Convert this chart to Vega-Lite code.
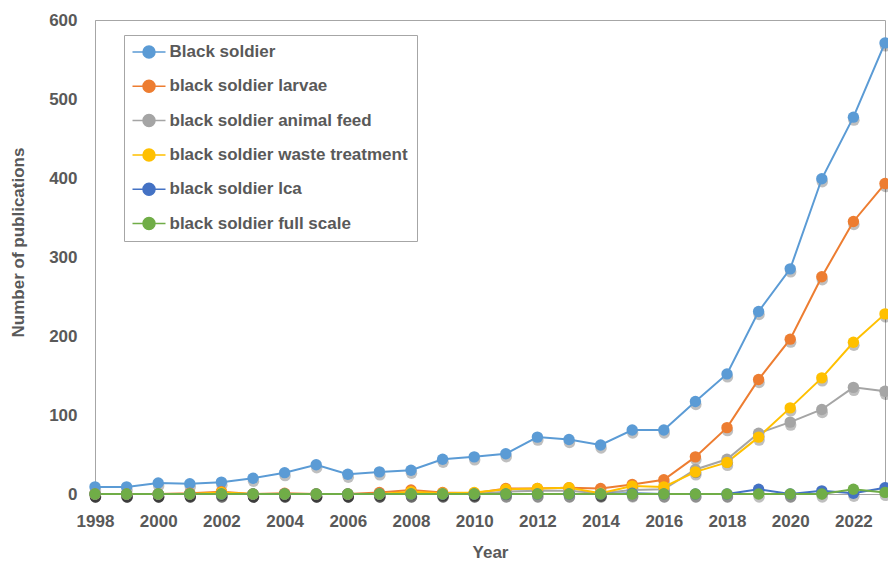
{
  "$schema": "https://vega.github.io/schema/vega-lite/v6.json",
  "width": 790,
  "height": 474,
  "autosize": {"type": "none"},
  "padding": {"left": 95, "top": 20, "right": 3, "bottom": 69},
  "background": "white",
  "config": {
    "font": "Liberation Sans",
    "view": {"stroke": "#A6A6A6", "strokeWidth": 1},
    "axis": {
      "grid": false, "ticks": false, "tickSize": 0,
      "labelFont": "Liberation Sans", "labelFontSize": 17, "labelFontWeight": "bold", "labelColor": "#595959",
      "titleFont": "Liberation Sans", "titleFontSize": 17, "titleFontWeight": "bold", "titleColor": "#595959",
      "domainColor": "#A6A6A6"
    }
  },
  "data": {"values": [
    {"year": 1998, "Black soldier": 9, "black soldier larvae": 0, "black soldier animal feed": 0, "black soldier waste treatment": 0, "black soldier lca": 0, "black soldier full scale": 0},
    {"year": 1999, "Black soldier": 9, "black soldier larvae": 0, "black soldier animal feed": 0, "black soldier waste treatment": 0, "black soldier lca": 0, "black soldier full scale": 0},
    {"year": 2000, "Black soldier": 14, "black soldier larvae": 0, "black soldier animal feed": 0, "black soldier waste treatment": 0, "black soldier lca": 0, "black soldier full scale": 0},
    {"year": 2001, "Black soldier": 13, "black soldier larvae": 1, "black soldier animal feed": 0, "black soldier waste treatment": 0, "black soldier lca": 0, "black soldier full scale": 0},
    {"year": 2002, "Black soldier": 15, "black soldier larvae": 3, "black soldier animal feed": 0, "black soldier waste treatment": 2, "black soldier lca": 0, "black soldier full scale": 0},
    {"year": 2003, "Black soldier": 20, "black soldier larvae": 0, "black soldier animal feed": 0, "black soldier waste treatment": 0, "black soldier lca": 0, "black soldier full scale": 0},
    {"year": 2004, "Black soldier": 27, "black soldier larvae": 1, "black soldier animal feed": 0, "black soldier waste treatment": 0, "black soldier lca": 0, "black soldier full scale": 0},
    {"year": 2005, "Black soldier": 37, "black soldier larvae": 0, "black soldier animal feed": 0, "black soldier waste treatment": 0, "black soldier lca": 0, "black soldier full scale": 0},
    {"year": 2006, "Black soldier": 25, "black soldier larvae": 0, "black soldier animal feed": 0, "black soldier waste treatment": 0, "black soldier lca": 0, "black soldier full scale": 0},
    {"year": 2007, "Black soldier": 28, "black soldier larvae": 2, "black soldier animal feed": 0, "black soldier waste treatment": 0, "black soldier lca": 0, "black soldier full scale": 0},
    {"year": 2008, "Black soldier": 30, "black soldier larvae": 5, "black soldier animal feed": 0, "black soldier waste treatment": 3, "black soldier lca": 0, "black soldier full scale": 0},
    {"year": 2009, "Black soldier": 44, "black soldier larvae": 2, "black soldier animal feed": 0, "black soldier waste treatment": 1, "black soldier lca": 0, "black soldier full scale": 0},
    {"year": 2010, "Black soldier": 47, "black soldier larvae": 1, "black soldier animal feed": 0, "black soldier waste treatment": 2, "black soldier lca": 0, "black soldier full scale": 0},
    {"year": 2011, "Black soldier": 51, "black soldier larvae": 7, "black soldier animal feed": 3, "black soldier waste treatment": 6, "black soldier lca": 0, "black soldier full scale": 0},
    {"year": 2012, "Black soldier": 72, "black soldier larvae": 7, "black soldier animal feed": 4, "black soldier waste treatment": 7, "black soldier lca": 0, "black soldier full scale": 0},
    {"year": 2013, "Black soldier": 69, "black soldier larvae": 8, "black soldier animal feed": 4, "black soldier waste treatment": 8, "black soldier lca": 0, "black soldier full scale": 0},
    {"year": 2014, "Black soldier": 62, "black soldier larvae": 7, "black soldier animal feed": 1, "black soldier waste treatment": 1, "black soldier lca": 0, "black soldier full scale": 0},
    {"year": 2015, "Black soldier": 81, "black soldier larvae": 12, "black soldier animal feed": 5, "black soldier waste treatment": 10, "black soldier lca": 1, "black soldier full scale": 0},
    {"year": 2016, "Black soldier": 81, "black soldier larvae": 18, "black soldier animal feed": 6, "black soldier waste treatment": 9, "black soldier lca": 0, "black soldier full scale": 0},
    {"year": 2017, "Black soldier": 117, "black soldier larvae": 47, "black soldier animal feed": 31, "black soldier waste treatment": 28, "black soldier lca": 0, "black soldier full scale": 0},
    {"year": 2018, "Black soldier": 152, "black soldier larvae": 84, "black soldier animal feed": 44, "black soldier waste treatment": 40, "black soldier lca": 0, "black soldier full scale": 0},
    {"year": 2019, "Black soldier": 231, "black soldier larvae": 145, "black soldier animal feed": 77, "black soldier waste treatment": 72, "black soldier lca": 6, "black soldier full scale": 0},
    {"year": 2020, "Black soldier": 285, "black soldier larvae": 196, "black soldier animal feed": 91, "black soldier waste treatment": 109, "black soldier lca": 0, "black soldier full scale": 0},
    {"year": 2021, "Black soldier": 399, "black soldier larvae": 275, "black soldier animal feed": 107, "black soldier waste treatment": 147, "black soldier lca": 4, "black soldier full scale": 0},
    {"year": 2022, "Black soldier": 477, "black soldier larvae": 345, "black soldier animal feed": 135, "black soldier waste treatment": 192, "black soldier lca": 1, "black soldier full scale": 6},
    {"year": 2023, "Black soldier": 571, "black soldier larvae": 393, "black soldier animal feed": 130, "black soldier waste treatment": 228, "black soldier lca": 8, "black soldier full scale": 2}
  ]},
  "transform": [
    {"fold": ["Black soldier", "black soldier larvae", "black soldier animal feed", "black soldier waste treatment", "black soldier lca", "black soldier full scale"], "as": ["series", "count"]}
  ],
  "encoding": {
    "x": {
      "field": "year", "type": "quantitative",
      "scale": {"domain": [1998, 2023], "nice": false, "zero": false},
      "axis": {"values": [1998, 2000, 2002, 2004, 2006, 2008, 2010, 2012, 2014, 2016, 2018, 2020, 2022], "format": "d", "labelPadding": 19, "title": "Year", "titlePadding": 15, "labelFlush": false, "labelOverlap": false}
    },
    "y": {
      "field": "count", "type": "quantitative",
      "scale": {"domain": [0, 600], "nice": false},
      "axis": {"values": [0, 100, 200, 300, 400, 500, 600], "labelPadding": 18, "title": "Number of publications", "titleX": -77, "titleY": 222, "titleBaseline": "middle", "titleAngle": -90}
    }
  },
  "layer": [
    {
      "mark": {"type": "point", "filled": true, "size": 130, "color": "black", "opacity": 0.25, "yOffset": 3, "xOffset": 0.5}
    },
    {
      "mark": {"type": "line", "strokeWidth": 2},
      "encoding": {
        "color": {
          "field": "series", "type": "nominal",
          "scale": {
            "domain": ["Black soldier", "black soldier larvae", "black soldier animal feed", "black soldier waste treatment", "black soldier lca", "black soldier full scale"],
            "range": ["#5B9BD5", "#ED7D31", "#A5A5A5", "#FFC000", "#4472C4", "#70AD47"]
          },
          "legend": {
            "orient": "none", "legendX": 29, "legendY": 15, "title": null, "direction": "vertical",
            "symbolType": "M-2.75,0H-1M1,0H2.75M1,0A1,1,0,1,1,-1,0A1,1,0,1,1,1,0Z",
            "symbolSize": 144, "symbolStrokeWidth": 1.5, "symbolOffset": 8, "labelOffset": 12,
            "labelFont": "Liberation Sans", "labelFontSize": 17, "labelFontWeight": "bold", "labelColor": "#595959",
            "padding": 8.5, "rowPadding": 15.3, "strokeColor": "#A6A6A6", "fillColor": "white", "labelLimit": 400,
            "encode": {"symbols": {"update": {"stroke": {"scale": "color", "field": "value"}, "fill": {"scale": "color", "field": "value"}, "opacity": {"value": 1}}}}
          }
        }
      }
    },
    {
      "mark": {"type": "point", "filled": true, "size": 130, "opacity": 1},
      "encoding": {
        "color": {"field": "series", "type": "nominal", "legend": null}
      }
    }
  ]
}
